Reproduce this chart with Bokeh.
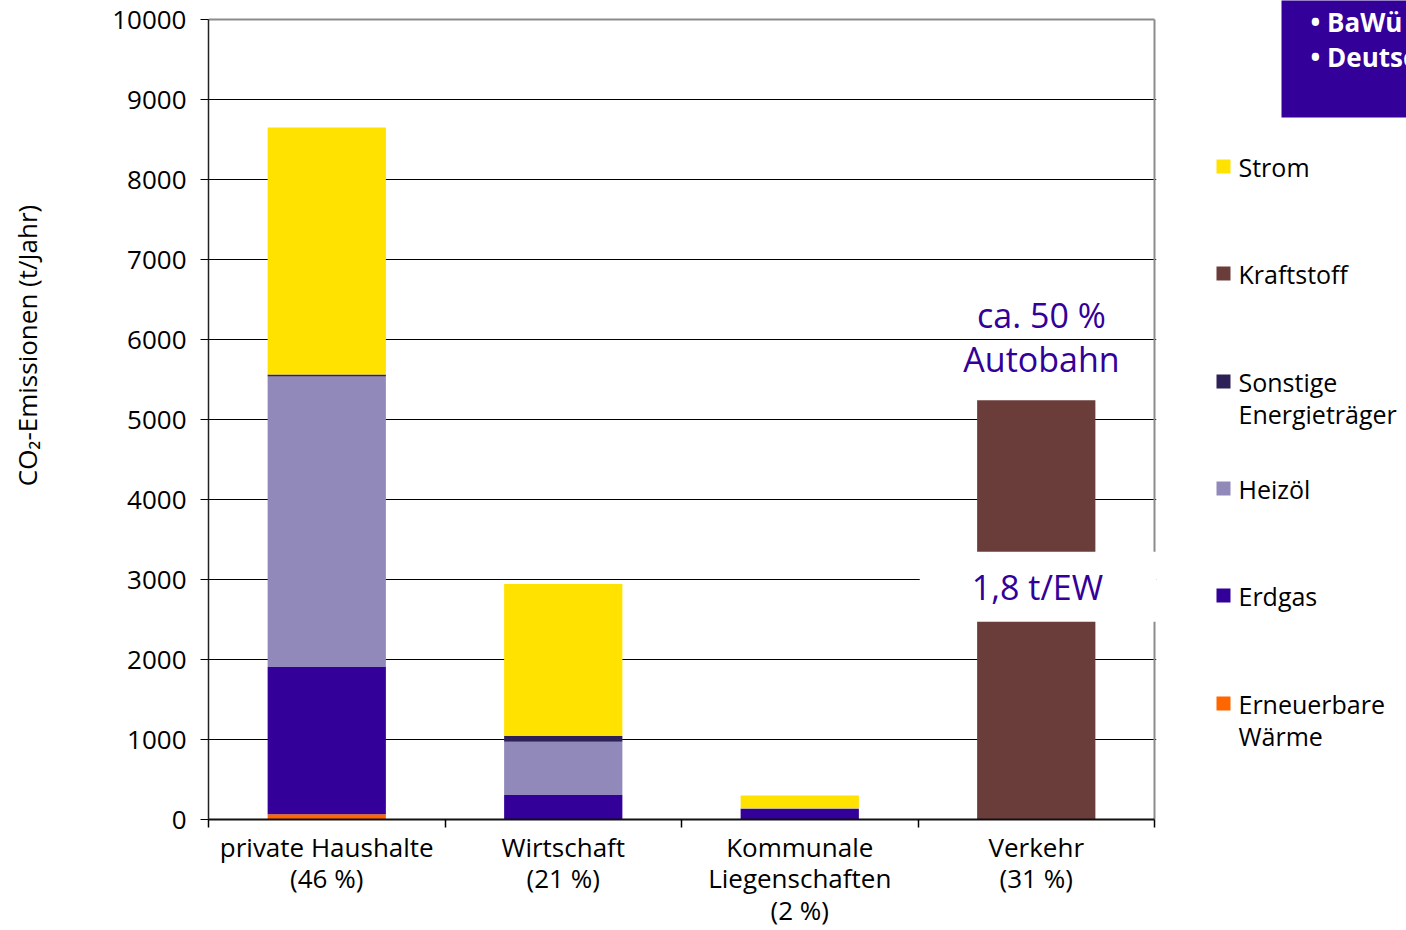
import math
from bokeh.plotting import figure
from bokeh.models import Range1d, FixedTicker, Label, ColumnDataSource
from bokeh.layouts import row
from bokeh.embed import file_html
from bokeh.resources import INLINE
from bokeh.core.properties import value

# ---------------- data ----------------
categories = ["private Haushalte\n(46 %)", "Wirtschaft\n(21 %)",
              "Kommunale\nLiegenschaften\n(2 %)", "Verkehr\n(31 %)"]
erneuerbare = [65, 0, 0, 0]
erdgas = [1840, 305, 135, 0]
heizoel = [3632, 666, 5, 0]
sonstige = [25, 75, 0, 0]
kraftstoff = [0, 0, 0, 5240]
strom = [3088, 1899, 160, 0]

stack_keys = ["erneuerbare", "erdgas", "heizoel", "sonstige", "kraftstoff", "strom"]
stack_colors = ["#FF6600", "#330099", "#9089BA", "#2E2157", "#6B3D3A", "#FFE200"]

legend_labels = ["Strom", "Kraftstoff", "Sonstige\nEnergieträger", "Heizöl", "Erdgas",
                 "Erneuerbare\nWärme"]
legend_colors = ["#FFE200", "#6B3D3A", "#2E2157", "#9089BA", "#330099", "#FF6600"]

y_ticks = list(range(0, 10001, 1000))
y_max = 10000
y_title = "CO\u2082-Emissionen (t/Jahr)"
note_lines = ["ca. 50 %", "Autobahn"]
per_capita = "1,8 t/EW"
info_lines = ["BaWü", "Deutschland"]

FONT = "Open Sans"
PURPLE = "#330099"
H = 930
TOP, BOTTOM = 0, 111          # common borders so that the frames line up
AXIS_Y = 819                  # pixel row of value 0
PX_PER_UNIT = 0.08            # pixels per t/Jahr

# ---------------- left strip: y title ----------------
W0 = 50
p0 = figure(width=W0, height=H, output_backend="svg", toolbar_location=None,
            x_range=Range1d(0, W0), y_range=Range1d(AXIS_Y, 0),
            x_axis_type=None, y_axis_type=None,
            min_border_left=0, min_border_right=0, min_border_top=TOP, min_border_bottom=BOTTOM)
p0.outline_line_color = None
p0.grid.grid_line_color = None
p0.text(x=[26], y=[345], text=[y_title], angle=math.pi / 2, text_align="center",
        text_baseline="middle", text_font=value(FONT), text_font_size="26px", text_color="black")

# ---------------- main figure ----------------
W1 = 1160 - W0
ppx = 236.5  # pixels per category
p = figure(width=W1, height=H, output_backend="svg", toolbar_location=None,
           x_range=Range1d(0, 4 + 2 / ppx), y_range=Range1d(0, AXIS_Y / PX_PER_UNIT),
           min_border_left=208 - W0, min_border_right=4, min_border_top=TOP,
           min_border_bottom=BOTTOM)
p.background_fill_color = "white"
p.border_fill_color = "white"
p.outline_line_color = None

xs = [i + 0.5 for i in range(len(categories))]
src = ColumnDataSource(dict(x=xs, erneuerbare=erneuerbare, erdgas=erdgas, heizoel=heizoel,
                            sonstige=sonstige, kraftstoff=kraftstoff, strom=strom))
p.vbar_stack(stack_keys, x="x", width=0.5, color=stack_colors, line_color=None, source=src)

# frame border (top + right, grey)
p.segment(x0=[0, 4], y0=[y_max, 0], x1=[4, 4], y1=[y_max, y_max],
          line_color="#8C8C8C", line_width=2)

# y axis
yax = p.yaxis[0]
yax.bounds = (0, y_max)
yax.ticker = FixedTicker(ticks=y_ticks, minor_ticks=[])
yax.axis_line_color = "#222222"
yax.axis_line_width = 1.5
yax.major_tick_line_color = "black"
yax.major_tick_out = 8
yax.major_tick_in = 0
yax.major_label_text_font = FONT
yax.major_label_text_font_size = "26px"
yax.major_label_text_color = "black"
yax.major_label_standoff = 14

# x axis
xax = p.xaxis[0]
xax.bounds = (0, 4)
xax.ticker = FixedTicker(ticks=xs, minor_ticks=[0, 1, 2, 3, 4])
xax.major_label_overrides = {x: c for x, c in zip(xs, categories)}
xax.axis_line_color = "#111111"
xax.axis_line_width = 2
xax.major_tick_line_color = None
xax.major_tick_out = 0
xax.major_tick_in = 0
xax.minor_tick_line_color = "black"
xax.minor_tick_line_width = 1.5
xax.minor_tick_out = 8
xax.minor_tick_in = 0
xax.major_label_text_font = FONT
xax.major_label_text_font_size = "26px"
xax.major_label_text_color = "black"
xax.major_label_standoff = 1
xax.major_label_text_line_height = 0.88

p.xgrid.grid_line_color = None
p.ygrid.ticker = FixedTicker(ticks=y_ticks[1:-1])
p.ygrid.grid_line_color = "black"
p.ygrid.grid_line_width = 1

# annotations
for txt, yy in zip(note_lines, [6310, 5760]):
    p.add_layout(Label(x=3.522, y=yy, text=txt, text_align="center", text_baseline="middle",
                       text_font=FONT, text_font_size="34px", text_color=PURPLE))
p.add_layout(Label(x=3.522, y=2910, text=per_capita, text_align="center", text_baseline="middle",
                   text_font=FONT, text_font_size="34px", text_color=PURPLE,
                   background_fill_color="white",
                   padding=dict(left=52, right=60, top=12, bottom=12)))

# ---------------- right side (legend + info box) ----------------
X2 = 1160
W2 = 1406 - X2
p2 = figure(width=W2, height=H, output_backend="svg", toolbar_location=None,
            x_range=Range1d(X2, X2 + W2), y_range=Range1d(AXIS_Y, 0),
            x_axis_type=None, y_axis_type=None,
            min_border_left=0, min_border_right=0, min_border_top=TOP, min_border_bottom=BOTTOM)
p2.outline_line_color = None
p2.background_fill_color = "white"
p2.border_fill_color = "white"
p2.grid.grid_line_color = None

# info box
p2.quad(left=1281, right=1420, top=-10, bottom=117, color=PURPLE, line_color=None)
for txt, yy in zip(info_lines, [21, 56]):
    p2.text(x=[1310], y=[yy], text=["\u2022  " + txt], text_color="white",
            text_font=value(FONT), text_font_size="26px", text_font_style="bold",
            text_baseline="middle", text_align="left")

# legend
leg_y = [166, 273, 381, 488, 595, 703]
p2.rect(x=[1223] * len(leg_y), y=leg_y, width=14, height=14, color=legend_colors, line_color=None)
tx, ty, tt = [], [], []
for lab, yy in zip(legend_labels, leg_y):
    for k, line in enumerate(lab.split("\n")):
        tx.append(1238)
        ty.append(yy + 32 * k)
        tt.append(line)
p2.text(x=tx, y=ty, text=tt, text_color="black", text_font=value(FONT),
        text_font_size="25px", text_baseline="middle", text_align="left")

layout = row(p0, p, p2)
open("out.html", "w").write(file_html(layout, INLINE))
